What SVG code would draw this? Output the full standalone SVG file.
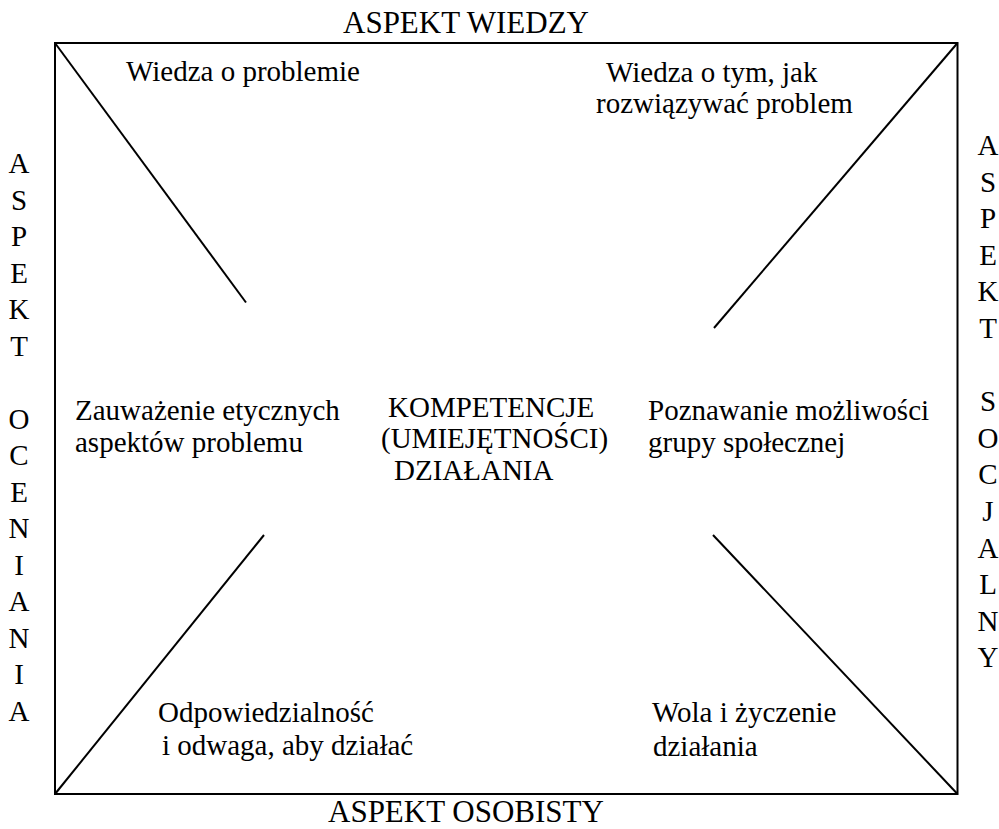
<svg xmlns="http://www.w3.org/2000/svg" width="999" height="829" viewBox="0 0 999 829">
<style>
text{font-family:"Liberation Serif","DejaVu Serif","Times New Roman",serif;font-size:29px;fill:#000}
.t{font-size:31px}
.v{text-anchor:middle}
.ln{stroke:#000;stroke-width:2;fill:none}
</style>
<rect width="999" height="829" fill="#fff"/>
<g id="frame"><rect class="ln" x="55" y="43" width="902.5" height="751"/></g>
<g id="connectors">
<line class="ln" x1="55" y1="43" x2="246" y2="302.5"/>
<line class="ln" x1="957.5" y1="43" x2="714" y2="328"/>
<line class="ln" x1="264" y1="535" x2="55" y2="794"/>
<line class="ln" x1="713" y1="535" x2="957.5" y2="794"/>
</g>
<g id="title-top"><text class="t" x="343" y="33">ASPEKT WIEDZY</text></g>
<g id="title-bottom"><text class="t" x="328" y="822">ASPEKT OSOBISTY</text></g>
<g id="title-left">
<text class="v" x="19" y="173">A</text>
<text class="v" x="19" y="209.5">S</text>
<text class="v" x="19" y="246">P</text>
<text class="v" x="19" y="282.5">E</text>
<text class="v" x="19" y="319">K</text>
<text class="v" x="19" y="355.5">T</text>
<text class="v" x="19" y="428.5">O</text>
<text class="v" x="19" y="465">C</text>
<text class="v" x="19" y="501.5">E</text>
<text class="v" x="19" y="538">N</text>
<text class="v" x="19" y="574.5">I</text>
<text class="v" x="19" y="611">A</text>
<text class="v" x="19" y="647.5">N</text>
<text class="v" x="19" y="684">I</text>
<text class="v" x="19" y="720.5">A</text>
</g>
<g id="title-right">
<text class="v" x="988" y="155">A</text>
<text class="v" x="988" y="191.6">S</text>
<text class="v" x="988" y="228.2">P</text>
<text class="v" x="988" y="264.8">E</text>
<text class="v" x="988" y="301.4">K</text>
<text class="v" x="988" y="338">T</text>
<text class="v" x="988" y="411.2">S</text>
<text class="v" x="988" y="447.8">O</text>
<text class="v" x="988" y="484.4">C</text>
<text class="v" x="988" y="521">J</text>
<text class="v" x="988" y="557.6">A</text>
<text class="v" x="988" y="594.2">L</text>
<text class="v" x="988" y="630.8">N</text>
<text class="v" x="988" y="667.4">Y</text>
</g>
<g id="node-tl"><text x="126" y="81">Wiedza o problemie</text></g>
<g id="node-tr"><text x="606" y="82">Wiedza o tym, jak</text><text x="596" y="113">rozwiązywać problem</text></g>
<g id="node-ml"><text x="75" y="420">Zauważenie etycznych</text><text x="75" y="452">aspektów problemu</text></g>
<g id="node-center"><text x="388" y="417">KOMPETENCJE</text><text x="381" y="448">(UMIEJĘTNOŚCI)</text><text x="394" y="480">DZIAŁANIA</text></g>
<g id="node-mr"><text x="648" y="420">Poznawanie możliwości</text><text x="648" y="452">grupy społecznej</text></g>
<g id="node-bl"><text x="158" y="722">Odpowiedzialność</text><text x="162" y="755">i odwaga, aby działać</text></g>
<g id="node-br"><text x="652" y="722">Wola i życzenie</text><text x="653" y="756">działania</text></g>
</svg>
